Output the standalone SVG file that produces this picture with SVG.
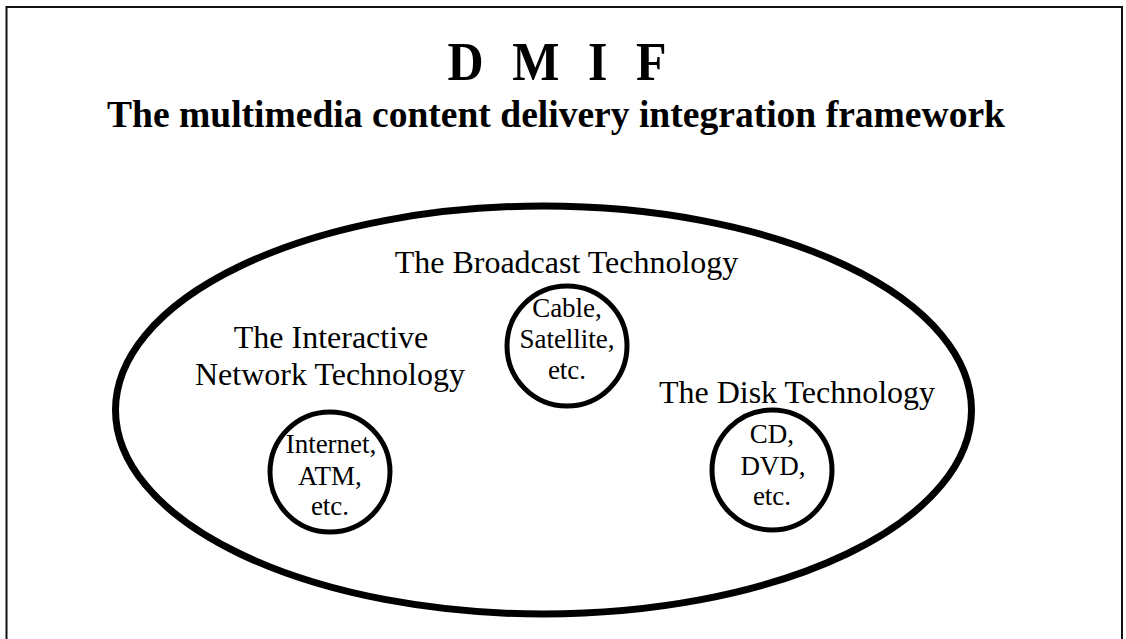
<svg xmlns="http://www.w3.org/2000/svg" width="1126" height="639" viewBox="0 0 1126 639">
<style>
.t{font-family:"Liberation Serif","Times New Roman",serif;fill:#000;text-anchor:middle}
.title{font-weight:bold;font-size:50px}
.sub{font-weight:bold;font-size:38px}
.lbl{font-size:32px}
.in{font-size:27px}
.ring{fill:none;stroke:#000;stroke-width:5}
.frame{fill:none;stroke:#111;stroke-width:2}
</style>
<rect width="1126" height="639" fill="#fff"/>
<g id="frame">
<path class="frame" d="M6.5 639 V7 H1122 V639"/>
</g>
<g id="title">
<text class="t title" x="557" y="80" textLength="219" lengthAdjust="spacing" transform="translate(0,-8) scale(1,1.1)">D M I F</text>
<text class="t sub" x="556" y="127" textLength="898" lengthAdjust="spacingAndGlyphs">The multimedia content delivery integration framework</text>
</g>
<g id="framework">
<ellipse cx="543.5" cy="410" rx="428" ry="204" fill="none" stroke="#000" stroke-width="7"/>
</g>
<g id="connectors"></g>
<g id="broadcast">
<text class="t lbl" x="566.5" y="273">The Broadcast Technology</text>
<circle class="ring" cx="567" cy="346" r="60"/>
<text class="t in" x="567" y="317">Cable,</text>
<text class="t in" x="567" y="348">Satellite,</text>
<text class="t in" x="567" y="379">etc.</text>
</g>
<g id="interactive">
<text class="t lbl" x="331" y="348">The Interactive</text>
<text class="t lbl" x="330" y="385">Network Technology</text>
<circle class="ring" cx="330" cy="472" r="60"/>
<text class="t in" x="331" y="453">Internet,</text>
<text class="t in" x="330" y="485">ATM,</text>
<text class="t in" x="330" y="515">etc.</text>
</g>
<g id="disk">
<text class="t lbl" x="797" y="403">The Disk Technology</text>
<circle class="ring" cx="772" cy="470" r="60"/>
<text class="t in" x="772" y="443">CD,</text>
<text class="t in" x="773" y="475">DVD,</text>
<text class="t in" x="772" y="505">etc.</text>
</g>
</svg>
